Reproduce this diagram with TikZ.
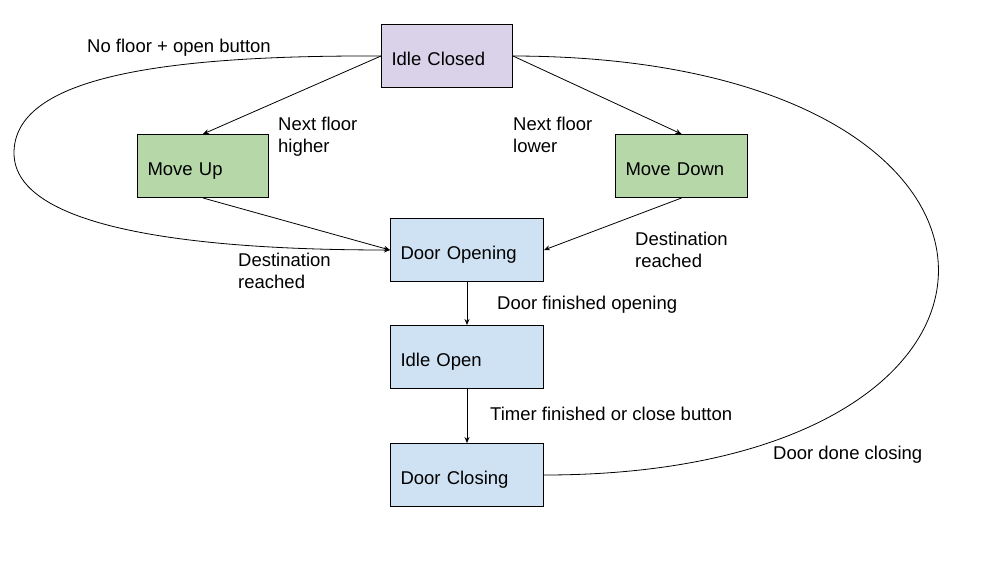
\documentclass[tikz,border=0pt]{standalone}
\usepackage{fontspec}
\setmainfont{Liberation Sans}
\usetikzlibrary{arrows.meta}
\definecolor{lav}{HTML}{D9D2E9}
\definecolor{grn}{HTML}{B6D7A8}
\definecolor{blu}{HTML}{CFE2F3}
\begin{document}
\begin{tikzpicture}[x=1pt,y=-1pt,
  box/.style={draw=black, line width=1pt, minimum height=63pt, inner xsep=10pt, inner ysep=0pt,
    text height=18pt, text depth=0pt,
    align=left, font=\fontsize{18.5}{22}\selectfont, anchor=north west},
  lbl/.style={inner sep=0pt, anchor=north west, align=left, font=\fontsize{18.5}{22}\selectfont},
  conn/.style={line width=0.8pt, -{Stealth[length=6pt,width=5pt]}},
  loopline/.style={line width=0.8pt}]
\useasboundingbox (0,0) rectangle (1007,573);
\fill[white] (0,0) rectangle (1007,573);

\node[box, fill=lav, text width=111pt] (ic) at (381,24) {Idle Closed};
\node[box, fill=grn, text width=111pt] (mu) at (137,134) {Move Up};
\node[box, fill=grn, text width=112pt] (md) at (615,134) {Move Down};
\node[box, fill=blu, text width=133pt] (do) at (390,218) {Door Opening};
\node[box, fill=blu, text width=133pt] (io) at (390,325) {Idle Open};
\node[box, fill=blu, text width=133pt] (dc) at (390,443) {Door Closing};

\coordinate (lp) at (14,153);

\draw[conn] (ic.west) -- (mu.north);
\draw[conn] (ic.east) -- (md.north);
\draw[conn] (mu.south) -- (do.west);
\draw[conn] (md.south) -- (do.east);
\draw[conn] (do.south) -- (io.north);
\draw[conn] (io.south) -- (dc.north);
\draw[conn] (ic.west) .. controls (150,55) and (14,80) .. (lp)
  .. controls (14,230) and (200,250) .. (do.west);
\draw[loopline] (dc.east) .. controls (1075,475) and (1075,57) .. (ic.east);

\node[lbl] (l1) at (87,39) {No floor + open button};
\node[lbl] (l2) at (278,117) {Next floor\\higher};
\node[lbl] (l3) at (513,117) {Next floor\\lower};
\node[lbl] (l4) at (238,253) {Destination\\reached};
\node[lbl] (l5) at (635,232) {Destination\\reached};
\node[lbl] (l6) at (497,296) {Door finished opening};
\node[lbl] (l7) at (490,407) {Timer finished or close button};
\node[lbl] (l8) at (773,446) {Door done closing};
\end{tikzpicture}
\end{document}
